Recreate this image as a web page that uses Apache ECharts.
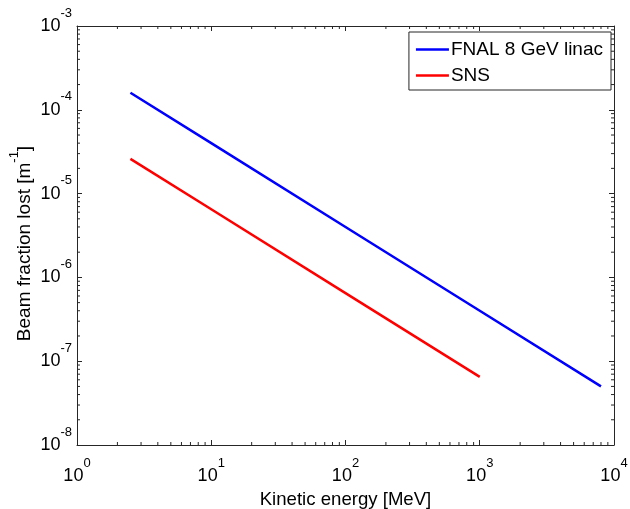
<!DOCTYPE html>
<html>
<head>
<meta charset="utf-8">
<script src="https://cdn.jsdelivr.net/npm/echarts@6/dist/echarts.min.js"></script>
<style>
  html, body { margin: 0; padding: 0; background: #fff; }
  #chartBox { width: 630px; height: 509px; }
</style>
</head>
<body>
<div id="chartBox"></div>
<script>
// kinetic energy [MeV] / beam fraction lost [1/m]
const fnalEnergy = [2.5, 10, 100, 1000, 8000];
const fnalLoss = [1.6e-4, 4e-5, 4e-6, 4e-7, 5e-8];
const snsEnergy = [2.5, 10, 100, 1000];
const snsLoss = [2.6e-5, 6.5e-6, 6.5e-7, 6.5e-8];
const seriesNames = ['FNAL 8 GeV linac', 'SNS'];

const xMin = 1, xMax = 1e4;
const yMin = 1e-8, yMax = 1e-3;

// minor tick positions 2..9 x 10^k
function minorValues(lo, hi) {
  let out = [];
  for (let d = lo; d < hi; d *= 10) {
    for (let m = 2; m <= 9; m++) out.push(d * m);
  }
  return out;
}
const xMinor = minorValues(xMin, xMax);
const yMinor = minorValues(yMin, yMax);

const FONT = '"Liberation Sans", Arial, sans-serif';
const AXIS_COLOR = '#262626';

const powLabel = v => {
  const e = Math.round(Math.log10(v));
  return '{b|10}{s|' + e + '}';
};
const labelRich = {
  b: { fontSize: 18, fontFamily: FONT, color: '#000' },
  s: { fontSize: 13, fontFamily: FONT, color: '#000', padding: [0, 0, 26, 0] }
};

const logAxis = (extra) => Object.assign({
  type: 'log',
  logBase: 10,
  axisLine: { show: true, onZero: false, lineStyle: { color: AXIS_COLOR, width: 1 } },
  axisTick: { show: true, inside: true, length: 5, lineStyle: { color: AXIS_COLOR } },
  splitLine: { show: false },
  minorTick: { show: false }
}, extra);

// minor ticks on all four sides, placed through the axis scales
function renderMinor(params, api) {
  const kids = [];
  const style = { stroke: AXIS_COLOR, lineWidth: 1 };
  xMinor.forEach(v => {
    const b = api.coord([v, yMin]);
    const t = api.coord([v, yMax]);
    kids.push({ type: 'line', shape: { x1: b[0], y1: b[1], x2: b[0], y2: b[1] - 3 }, style });
    kids.push({ type: 'line', shape: { x1: t[0], y1: t[1], x2: t[0], y2: t[1] + 3 }, style });
  });
  yMinor.forEach(v => {
    const l = api.coord([xMin, v]);
    const r = api.coord([xMax, v]);
    kids.push({ type: 'line', shape: { x1: l[0], y1: l[1], x2: l[0] + 3, y2: l[1] }, style });
    kids.push({ type: 'line', shape: { x1: r[0], y1: r[1], x2: r[0] - 3, y2: r[1] }, style });
  });
  return params.dataIndex === 0 ? { type: 'group', children: kids } : null;
}

const chart = echarts.init(document.getElementById('chartBox'), null, { renderer: 'canvas' });

const option = {
  animation: false,
  backgroundColor: '#fff',
  grid: { left: 77, right: 16, top: 26, bottom: 64, outerBoundsMode: 'none' },
  legend: {
    orient: 'vertical',
    right: 19,
    top: 32,
    backgroundColor: '#fff',
    borderColor: AXIS_COLOR,
    borderWidth: 1,
    padding: [8, 8, 5, 7],
    itemGap: 7,
    itemWidth: 33,
    itemHeight: 2.5,
    icon: 'rect',
    data: seriesNames,
    textStyle: { fontSize: 19, fontFamily: FONT, color: '#000', lineHeight: 19, padding: [0, 0, 0, -3] }
  },
  xAxis: [
    logAxis({
      min: xMin, max: xMax,
      name: 'Kinetic energy [MeV]',
      nameLocation: 'middle',
      nameGap: 44,
      nameTextStyle: { fontSize: 18.6, fontFamily: FONT, color: '#000' },
      axisLabel: { margin: 12, formatter: powLabel, rich: labelRich }
    }),
    logAxis({ min: xMin, max: xMax, position: 'top', axisLabel: { show: false } })
  ],
  yAxis: [
    logAxis({
      min: yMin, max: yMax,
      name: 'Beam fraction lost [m{s|-1}]',
      nameLocation: 'middle',
      nameGap: 36,
      nameMoveOverlap: false,
      nameTextStyle: {
        fontSize: 19, fontFamily: FONT, color: '#000',
        padding: [0, 16, 0, 0],
        rich: { s: { fontSize: 13, fontFamily: FONT, color: '#000', padding: [0, 0, 20, 0] } }
      },
      axisLabel: { margin: 5, formatter: powLabel, rich: labelRich }
    }),
    logAxis({ min: yMin, max: yMax, position: 'right', axisLabel: { show: false } })
  ],
  series: [
    {
      name: seriesNames[0],
      type: 'line',
      data: fnalEnergy.map((e, i) => [e, fnalLoss[i]]),
      showSymbol: false,
      symbol: 'none',
      lineStyle: { color: '#0000ff', width: 2.5 },
      itemStyle: { color: '#0000ff' }
    },
    {
      name: seriesNames[1],
      type: 'line',
      data: snsEnergy.map((e, i) => [e, snsLoss[i]]),
      showSymbol: false,
      symbol: 'none',
      lineStyle: { color: '#ff0000', width: 2.5 },
      itemStyle: { color: '#ff0000' }
    },
    {
      type: 'custom',
      silent: true,
      clip: false,
      data: [[xMin, yMin]],
      renderItem: renderMinor,
      z: 1
    }
  ]
};

chart.setOption(option);
</script>
</body>
</html>
